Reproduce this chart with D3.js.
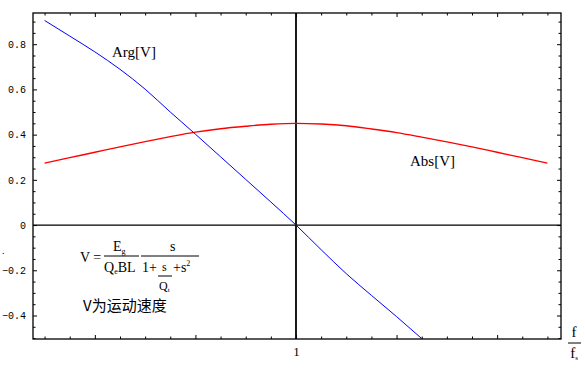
<!DOCTYPE html>
<html>
<head>
<meta charset="utf-8">
<script src="https://cdn.jsdelivr.net/npm/d3@7"></script>
<style>
  body { margin: 0; background: #fff; }
  svg { display: block; }
  .ylab text { font-family: "Liberation Mono", "DejaVu Sans Mono", monospace; font-size: 10px; }
  .serif { font-family: "Liberation Serif", "Times New Roman", serif; }
</style>
</head>
<body>
<div id="chart"></div>
<script>
// log10(f/fs) grid
const lgRatio = [-0.5, -0.45, -0.4, -0.35, -0.3, -0.25, -0.2, -0.15, -0.1, -0.05, 0,
                 0.05, 0.1, 0.15, 0.2, 0.25, 0.3, 0.35, 0.4, 0.45, 0.5];
const absV = [0.274, 0.298, 0.322, 0.346, 0.369, 0.391, 0.411, 0.426, 0.437, 0.446, 0.450,
              0.447, 0.439, 0.425, 0.409, 0.389, 0.368, 0.346, 0.322, 0.298, 0.274];
// Arg runs out of the frame after about 0.25
const argLg = [-0.5, -0.45, -0.4, -0.35, -0.3, -0.25, -0.2, -0.15, -0.1, -0.05, 0,
               0.05, 0.1, 0.15, 0.2, 0.251];
const argV = [0.905, 0.836, 0.766, 0.689, 0.601, 0.500, 0.402, 0.302, 0.202, 0.102, 0,
              -0.109, -0.215, -0.311, -0.405, -0.504];

const xMajor = [-0.4, -0.2, 0, 0.2, 0.4];
const xMinor = [-0.5, -0.45, -0.35, -0.3, -0.25, -0.15, -0.1, -0.05,
                0.05, 0.1, 0.15, 0.25, 0.3, 0.35, 0.45, 0.5];
const xLabels = {"0": "1"};
const yMajor = [-0.4, -0.2, 0, 0.2, 0.4, 0.6, 0.8];
const yMinor = [-0.5, -0.45, -0.35, -0.3, -0.25, -0.15, -0.1, -0.05,
                0.05, 0.1, 0.15, 0.25, 0.3, 0.35, 0.45, 0.5, 0.55, 0.65, 0.7, 0.75, 0.85, 0.9];

const width = 585, height = 372;
const fLeft = 33, fRight = 561, fTop = 13, fBottom = 339;

let svg = d3.select("#chart").append("svg").attr("width", width).attr("height", height);

let x = d3.scaleLinear().domain([-0.523, 0.527]).range([fLeft, fRight]);
let y = d3.scaleLinear().domain([-0.504, 0.938]).range([fBottom, fTop]);

function ticks(axis, tr, cls){
    let g = svg.append("g").attr("class", cls || "").attr("transform", tr).call(axis);
    g.select(".domain").remove();
    g.selectAll("line").attr("stroke", "#000");
    return g;
}

// major + minor ticks, inward on all four sides
ticks(d3.axisBottom(x).tickValues(xMajor).tickSize(-4).tickPadding(8)
      .tickFormat(d => xLabels[String(d)] || ""), `translate(0,${fBottom})`, "xlab");
ticks(d3.axisBottom(x).tickValues(xMinor).tickSize(-2.5).tickFormat(""), `translate(0,${fBottom})`);
ticks(d3.axisTop(x).tickValues(xMajor).tickSize(-4).tickFormat(""), `translate(0,${fTop})`);
ticks(d3.axisTop(x).tickValues(xMinor).tickSize(-2.5).tickFormat(""), `translate(0,${fTop})`);
ticks(d3.axisLeft(y).tickValues(yMajor).tickSize(-4).tickPadding(7)
      .tickFormat(d => d === 0 ? "0" : d3.format(".1f")(d)), `translate(${fLeft},0)`, "ylab");
ticks(d3.axisLeft(y).tickValues(yMinor).tickSize(-2.5).tickFormat(""), `translate(${fLeft},0)`);
ticks(d3.axisRight(y).tickValues(yMajor).tickSize(-4).tickFormat(""), `translate(${fRight},0)`);
ticks(d3.axisRight(y).tickValues(yMinor).tickSize(-2.5).tickFormat(""), `translate(${fRight},0)`);

svg.selectAll(".xlab text").attr("class", "serif").style("font-size", "13px").attr("fill", "#000");
svg.selectAll(".ylab text").attr("fill", "#000");

// frame
svg.append("rect").attr("x", fLeft).attr("y", fTop).attr("width", fRight - fLeft).attr("height", fBottom - fTop)
    .attr("fill", "none").attr("stroke", "#000").attr("stroke-width", 1.3);

// axes through origin
svg.append("line").attr("x1", fLeft).attr("x2", fRight).attr("y1", y(0)).attr("y2", y(0))
    .attr("stroke", "#000").attr("stroke-width", 1.2);
svg.append("line").attr("x1", x(0)).attr("x2", x(0)).attr("y1", fTop).attr("y2", fBottom)
    .attr("stroke", "#000").attr("stroke-width", 1.8);

svg.append("clipPath").attr("id", "frame").append("rect")
    .attr("x", fLeft).attr("y", fTop).attr("width", fRight - fLeft).attr("height", fBottom - fTop);

let line = d3.line().x(d => x(d[0])).y(d => y(d[1])).curve(d3.curveMonotoneX);
let plot = svg.append("g").attr("clip-path", "url(#frame)");
plot.append("path").datum(d3.zip(lgRatio, absV)).attr("d", line)
    .attr("fill", "none").attr("stroke", "#ff0000").attr("stroke-width", 1.4);
plot.append("path").datum(d3.zip(argLg, argV)).attr("d", line)
    .attr("fill", "none").attr("stroke", "#0000ff").attr("stroke-width", 1);

// annotations
function txt(s, px, py, size, anchor){
    return svg.append("text").attr("class", "serif").attr("x", px).attr("y", py)
        .attr("font-size", size).attr("text-anchor", anchor || "start").attr("fill", "#000").text(s);
}
txt("Arg[V]", 112, 57, 15);
txt("Abs[V]", 410, 166, 15);

// V = Eg/(Qe BL) * s/(1 + s/Qt + s^2)
txt("V =", 80, 262, 14);
function bar(x1, x2, yy){
    svg.append("line").attr("x1", x1).attr("x2", x2).attr("y1", yy).attr("y2", yy)
        .attr("stroke", "#000").attr("stroke-width", 1);
}
bar(104, 139, 256);
let eg = txt("E", 113, 251, 14); eg.append("tspan").attr("font-size", 8).attr("dy", 3).text("g");
let qe = txt("Q", 104, 272, 14); qe.append("tspan").attr("font-size", 8).attr("dy", 2).text("e");
qe.append("tspan").attr("dy", -2).text("BL");
bar(141, 199, 256);
txt("s", 170, 251, 14);
txt("1+", 142, 272, 14);
bar(158, 172, 276);
txt("s", 162, 271, 12);
let qt = txt("Q", 159, 290, 12); qt.append("tspan").attr("font-size", 7).attr("dy", 2).text("t");
let s2 = txt("+s", 173, 272, 14); s2.append("tspan").attr("font-size", 8).attr("dy", -6).text("2");

svg.append("text").attr("x", 83).attr("y", 311).attr("fill", "#000")
    .attr("font-family", "'Noto Sans CJK SC', sans-serif").attr("font-size", 15).text("V为运动速度");

// f / fs axis label
txt("f", 574, 337, 15, "middle");
bar(568, 581, 343);
let fs = txt("f", 574, 358, 15, "middle"); fs.append("tspan").attr("font-size", 7).attr("dy", 2).text("s");

svg.append("text").attr("x", 2).attr("y", 254).attr("font-size", 10).attr("fill", "#000").text(".");
</script>
</body>
</html>
